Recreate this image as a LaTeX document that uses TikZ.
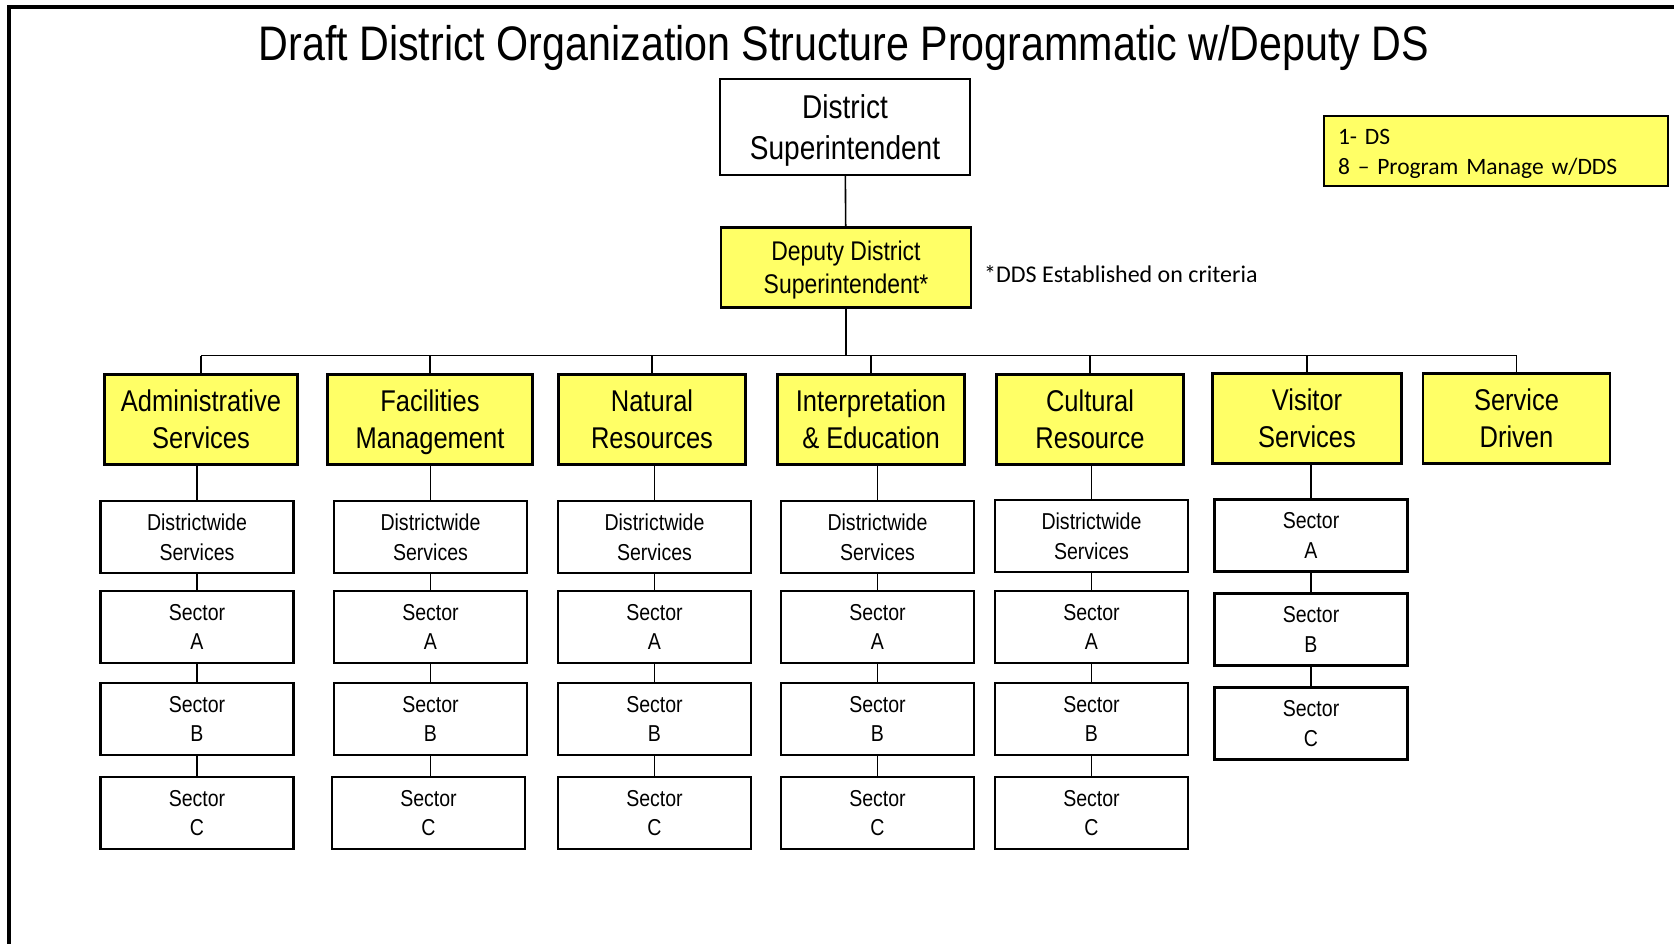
\documentclass[tikz,border=0pt]{standalone}
\usepackage{fontspec}
\newfontfamily\narrowsf[FakeStretch=0.85]{Liberation Sans}
\newfontfamily\notefont{Carlito}
\definecolor{boxyellow}{RGB}{255,255,102}
\usetikzlibrary{positioning,calc}

\begin{document}
\begin{tikzpicture}[x=1pt,y=-1pt,
    orgbox/.style={draw,line width=2.2pt,inner sep=0pt,align=center,text depth=0pt},
    head/.style={orgbox,fill=boxyellow,minimum height=90pt,font=\narrowsf\fontsize{30}{37}\selectfont},
    unit/.style={orgbox,fill=white,minimum width=193pt,minimum height=72pt,font=\narrowsf\fontsize{23}{29.5}\selectfont},
    link/.style={line width=1.6pt}]
    \useasboundingbox (0,0) rectangle (1674,944);
    \draw[line width=4pt] (9,944) -- (9,7) -- (1674,7);

    \node[anchor=base,font=\narrowsf\fontsize{48.5}{58}\selectfont] (title) at (844,61) {Draft District Organization Structure Programmatic w/Deputy DS};

    \node[orgbox,minimum width=250pt,minimum height=96pt,font=\narrowsf\fontsize{33}{41.5}\selectfont] (ds) at (845,127) {District\\Superintendent};
    \node[orgbox,fill=boxyellow,minimum width=250pt,minimum height=80pt,font=\narrowsf\fontsize{27}{33}\selectfont] (dds) at (846,267.5) {Deputy District\\Superintendent*};
    \node[anchor=west,inner sep=0pt,font=\notefont\fontsize{24}{29}\selectfont] (note) at (984,274) {*DDS Established on criteria};
    \node[draw,line width=2pt,fill=boxyellow,anchor=north west,text width=316pt,minimum height=70pt,inner xsep=14pt,align=left,text depth=29pt,font=\notefont\fontsize{23.5}{30}\selectfont] (legend) at (1323,115) {1- DS\\8 – Program Manage w/DDS};

    % program heads
    \node[head,minimum width=193pt] (adm) at (201,419.5) {Administrative\\Services};
    \node[head,minimum width=205pt] (fac) at (430,419.5) {Facilities\\Management};
    \node[head,minimum width=187pt] (nat) at (652,419.5) {Natural\\Resources};
    \node[head,minimum width=187pt] (int) at (871,419.5) {Interpretation\\\& Education};
    \node[head,minimum width=187pt] (cul) at (1090,419.5) {Cultural\\Resource};
    \node[head,minimum width=189pt] (vis) at (1307,418.5) {Visitor\\Services};
    \node[head,minimum width=187pt] (svc) at (1516.5,418.5) {Service\\Driven};

    % units
    \node[unit] (adm-dw) at (197,537) {Districtwide\\Services};
    \node[unit] (adm-a) at (197,627) {Sector\\A};
    \node[unit] (adm-b) at (197,719) {Sector\\B};
    \node[unit] (adm-c) at (197,813) {Sector\\C};
    \node[unit] (fac-dw) at (430.5,537) {Districtwide\\Services};
    \node[unit] (fac-a) at (430.5,627) {Sector\\A};
    \node[unit] (fac-b) at (430.5,719) {Sector\\B};
    \node[unit] (fac-c) at (428.5,813) {Sector\\C};
    \node[unit] (nat-dw) at (654.5,537) {Districtwide\\Services};
    \node[unit] (nat-a) at (654.5,627) {Sector\\A};
    \node[unit] (nat-b) at (654.5,719) {Sector\\B};
    \node[unit] (nat-c) at (654.5,813) {Sector\\C};
    \node[unit] (int-dw) at (877.5,537) {Districtwide\\Services};
    \node[unit] (int-a) at (877.5,627) {Sector\\A};
    \node[unit] (int-b) at (877.5,719) {Sector\\B};
    \node[unit] (int-c) at (877.5,813) {Sector\\C};
    \node[unit] (cul-dw) at (1091.5,536) {Districtwide\\Services};
    \node[unit] (cul-a) at (1091.5,627) {Sector\\A};
    \node[unit] (cul-b) at (1091.5,719) {Sector\\B};
    \node[unit] (cul-c) at (1091.5,813) {Sector\\C};
    \node[unit] (vis-a) at (1311,535.5) {Sector\\A};
    \node[unit] (vis-b) at (1311,629.5) {Sector\\B};
    \node[unit] (vis-c) at (1311,723.5) {Sector\\C};

    \coordinate (bus) at (845,355.5);
    \draw[link] (ds) -- (dds);
    \draw[link] (dds.south) -- (dds.south |- bus);
    \draw[link] (adm.north |- bus) -- (svc.north |- bus);
    \draw[link] (adm.north |- bus) -- (adm.north);
    \draw[link] (fac.north |- bus) -- (fac.north);
    \draw[link] (nat.north |- bus) -- (nat.north);
    \draw[link] (int.north |- bus) -- (int.north);
    \draw[link] (cul.north |- bus) -- (cul.north);
    \draw[link] (vis.north |- bus) -- (vis.north);
    \draw[link] (svc.north |- bus) -- (svc.north);

    \draw[link] (adm-dw.north |- adm.south) -- (adm-dw.north);
    \draw[link] (adm-dw) -- (adm-a);
    \draw[link] (adm-a) -- (adm-b);
    \draw[link] (adm-b) -- (adm-c);
    \draw[link] (fac-dw.north |- fac.south) -- (fac-dw.north);
    \draw[link] (fac-dw) -- (fac-a);
    \draw[link] (fac-a) -- (fac-b);
    \draw[link] (fac-b.south) -- (fac-b.south |- fac-c.north);
    \draw[link] (nat-dw.north |- nat.south) -- (nat-dw.north);
    \draw[link] (nat-dw) -- (nat-a);
    \draw[link] (nat-a) -- (nat-b);
    \draw[link] (nat-b) -- (nat-c);
    \draw[link] (int-dw.north |- int.south) -- (int-dw.north);
    \draw[link] (int-dw) -- (int-a);
    \draw[link] (int-a) -- (int-b);
    \draw[link] (int-b) -- (int-c);
    \draw[link] (cul-dw.north |- cul.south) -- (cul-dw.north);
    \draw[link] (cul-dw) -- (cul-a);
    \draw[link] (cul-a) -- (cul-b);
    \draw[link] (cul-b) -- (cul-c);
    \draw[link] (vis-a.north |- vis.south) -- (vis-a.north);
    \draw[link] (vis-a) -- (vis-b);
    \draw[link] (vis-b) -- (vis-c);
\end{tikzpicture}
\end{document}
